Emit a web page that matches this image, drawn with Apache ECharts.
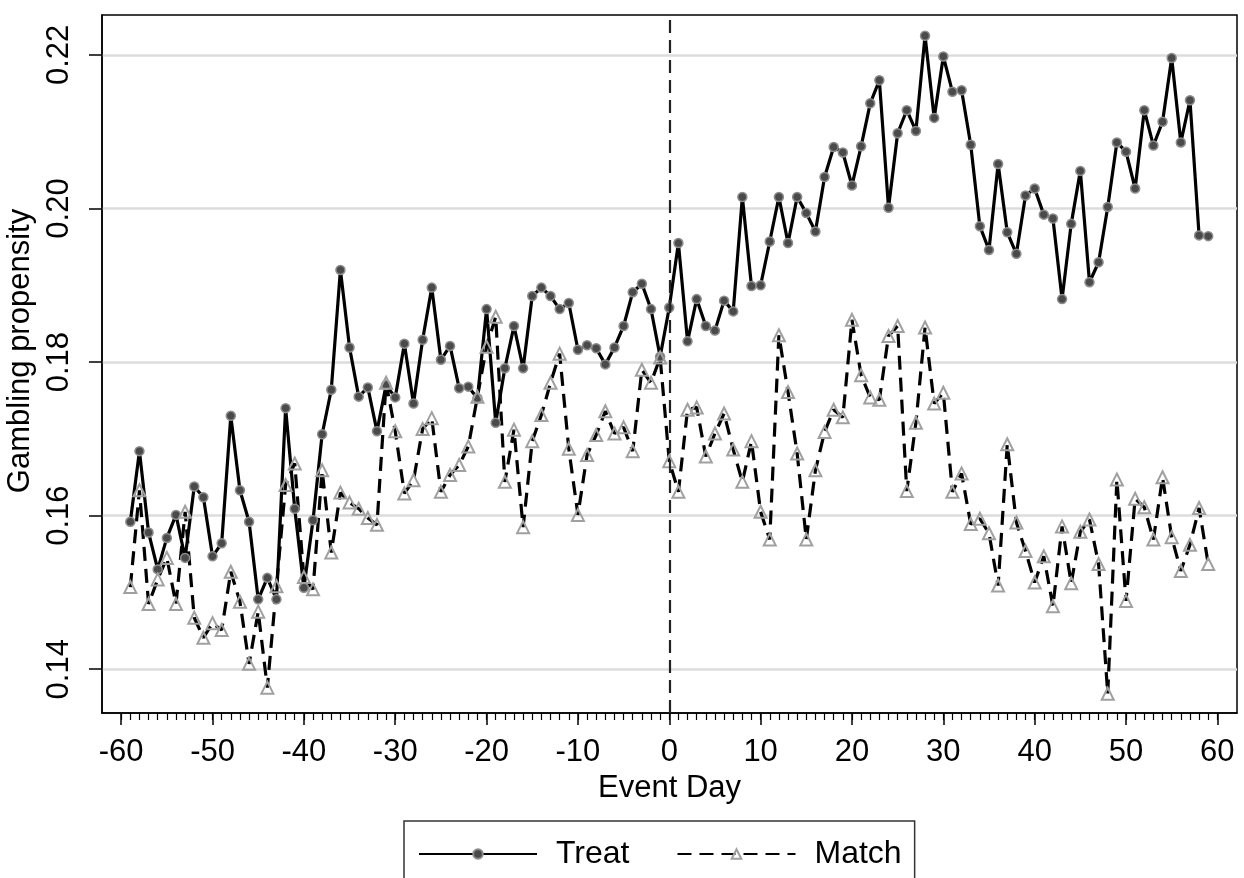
<!DOCTYPE html>
<html>
<head>
<meta charset="utf-8">
<script src="https://cdn.jsdelivr.net/npm/echarts@6/dist/echarts.min.js"></script>
<style>
html,body{margin:0;padding:0;background:#fff;}
#chart{width:1244px;height:878px;}
</style>
</head>
<body>
<div id="chart"></div>
<script>
const days = [-59,-58,-57,-56,-55,-54,-53,-52,-51,-50,-49,-48,-47,-46,-45,-44,-43,-42,-41,-40,
-39,-38,-37,-36,-35,-34,-33,-32,-31,-30,-29,-28,-27,-26,-25,-24,-23,-22,-21,-20,
-19,-18,-17,-16,-15,-14,-13,-12,-11,-10,-9,-8,-7,-6,-5,-4,-3,-2,-1,0,
1,2,3,4,5,6,7,8,9,10,11,12,13,14,15,16,17,18,19,20,
21,22,23,24,25,26,27,28,29,30,31,32,33,34,35,36,37,38,39,40,
41,42,43,44,45,46,47,48,49,50,51,52,53,54,55,56,57,58,59];

const treat = [0.1592,0.1684,0.1578,0.1530,0.1571,0.1601,0.1545,0.1638,0.1624,0.1547,
0.1564,0.1730,0.1633,0.1592,0.1491,0.1519,0.1491,0.1740,0.1609,0.1506,
0.1594,0.1706,0.1764,0.1920,0.1819,0.1755,0.1767,0.1710,0.1770,0.1754,
0.1824,0.1746,0.1829,0.1897,0.1803,0.1821,0.1766,0.1768,0.1753,0.1869,
0.1721,0.1792,0.1847,0.1792,0.1886,0.1897,0.1886,0.1869,0.1877,0.1816,
0.1822,0.1818,0.1797,0.1819,0.1847,0.1891,0.1902,0.1869,0.1807,0.1871,
0.1955,0.1827,0.1882,0.1847,0.1841,0.1880,0.1866,0.2015,0.1899,0.1900,
0.1957,0.2015,0.1955,0.2015,0.1994,0.1970,0.2041,0.2080,0.2073,0.2030,
0.2081,0.2137,0.2167,0.2001,0.2098,0.2128,0.2101,0.2225,0.2118,0.2198,
0.2152,0.2154,0.2083,0.1977,0.1946,0.2058,0.1969,0.1941,0.2017,0.2026,
0.1992,0.1987,0.1882,0.1980,0.2049,0.1904,0.1930,0.2002,0.2086,0.2074,
0.2026,0.2128,0.2082,0.2113,0.2196,0.2086,0.2141,0.1965,0.1964];

const match = [0.1507,0.1633,0.1485,0.1517,0.1545,0.1485,0.1605,0.1467,0.1441,0.1460,
0.1451,0.1527,0.1488,0.1407,0.1475,0.1376,0.1508,0.1640,0.1668,0.1520,
0.1504,0.1659,0.1552,0.1630,0.1617,0.1609,0.1597,0.1588,0.1773,0.1710,
0.1629,0.1646,0.1713,0.1727,0.1631,0.1653,0.1666,0.1690,0.1755,0.1820,
0.1859,0.1644,0.1712,0.1585,0.1697,0.1731,0.1773,0.1811,0.1687,0.1601,
0.1679,0.1705,0.1736,0.1707,0.1715,0.1684,0.1790,0.1773,0.1806,0.1671,
0.1631,0.1738,0.1741,0.1677,0.1707,0.1733,0.1686,0.1644,0.1697,0.1605,
0.1569,0.1835,0.1761,0.1681,0.1569,0.1659,0.1709,0.1738,0.1728,0.1855,
0.1783,0.1754,0.1751,0.1834,0.1847,0.1632,0.1721,0.1845,0.1746,0.1760,
0.1631,0.1655,0.1589,0.1596,0.1577,0.1509,0.1693,0.1591,0.1554,0.1513,
0.1547,0.1482,0.1586,0.1512,0.1579,0.1595,0.1537,0.1368,0.1647,0.1489,
0.1622,0.1611,0.1569,0.1650,0.1572,0.1528,0.1562,0.1610,0.1537];

const xTicks = [-60,-50,-40,-30,-20,-10,0,10,20,30,40,50,60];
const yTicks = [0.14,0.16,0.18,0.20,0.22];
const eventDay = 0;

const xMinorTicks = [];
for (let d = xTicks[0]; d <= xTicks[xTicks.length-1]; d++) xMinorTicks.push(d);

const FONT = '"Liberation Sans", Arial, sans-serif';
const chart = echarts.init(document.getElementById('chart'), null, {renderer:'canvas'});

chart.setOption({
  animation: false,
  backgroundColor: '#fff',
  textStyle: {fontFamily: FONT},
  grid: {left: 102, right: 7, top: 15, bottom: 165, outerBoundsMode: 'none', containLabel: false,
    show: true, borderColor: '#000', borderWidth: 1.5, backgroundColor: 'transparent'},
  legend: {
    left: 404, top: 821, orient: 'horizontal',
    itemWidth: 118, itemHeight: 12, itemGap: 47,
    padding: [17, 13, 30, 14],
    borderColor: '#333', borderWidth: 1.5,
    textStyle: {fontSize: 32, color: '#000', fontFamily: FONT, padding: [0, 0, 0, 14]},
    data: ['Treat', 'Match']
  },
  xAxis: [{
    type: 'value', min: -62.1, max: 62.15,
    axisLine: {show: true, onZero: false, lineStyle: {color: '#000', width: 1.5}},
    axisTick: {show: true, length: 12, customValues: xTicks, lineStyle: {color: '#000', width: 1.5}},
    axisLabel: {customValues: xTicks, margin: 24, fontSize: 31, color: '#000', fontFamily: FONT},
    splitLine: {show: false},
    name: 'Event Day', nameLocation: 'middle', nameGap: 55,
    nameTextStyle: {fontSize: 31, color: '#000', fontFamily: FONT}
  }, {
    type: 'value', min: -62.1, max: 62.15, position: 'bottom',
    axisLine: {show: false, onZero: false},
    axisTick: {show: true, length: 7, customValues: xMinorTicks, lineStyle: {color: '#000', width: 1.2}},
    axisLabel: {show: false},
    splitLine: {show: false}
  }],
  yAxis: {
    type: 'value', min: 0.1343, max: 0.2252,
    axisLine: {show: true, onZero: false, lineStyle: {color: '#000', width: 1.5}},
    axisTick: {show: true, length: 13, customValues: yTicks, lineStyle: {color: '#000', width: 1.5}},
    axisLabel: {customValues: yTicks, rotate: 90, margin: 27, fontSize: 31, color: '#000', fontFamily: FONT,
      formatter: v => v.toFixed(2)},
    splitLine: {show: true, lineStyle: {color: '#dcdcdc', width: 2.5}},
    name: 'Gambling propensity', nameLocation: 'middle', nameGap: 58, nameRotate: 90,
    nameTextStyle: {fontSize: 31, color: '#000', fontFamily: FONT, padding: [0, 0, 0, 26]}
  },
  series: [{
    name: 'Treat', type: 'line', xAxisIndex: 0,
    data: days.map((d, i) => [d, treat[i]]),
    symbol: 'circle', symbolSize: 9,
    lineStyle: {color: '#000', width: 3.2},
    itemStyle: {color: '#4a4a4a', borderColor: '#8c8c8c', borderWidth: 1.5},
    markLine: {
      silent: true, symbol: ['none', 'none'], label: {show: false},
      lineStyle: {color: '#222', type: [13, 7], width: 2.2},
      data: [{xAxis: eventDay}]
    }
  }, {
    name: 'Match', type: 'line', xAxisIndex: 0,
    data: days.map((d, i) => [d, match[i]]),
    symbol: 'triangle', symbolSize: 12,
    lineStyle: {color: '#000', width: 3.2, type: [14, 8]},
    itemStyle: {color: 'rgba(255,255,255,0)', borderColor: '#a0a0a0', borderWidth: 2}
  }]
});
</script>
</body>
</html>
